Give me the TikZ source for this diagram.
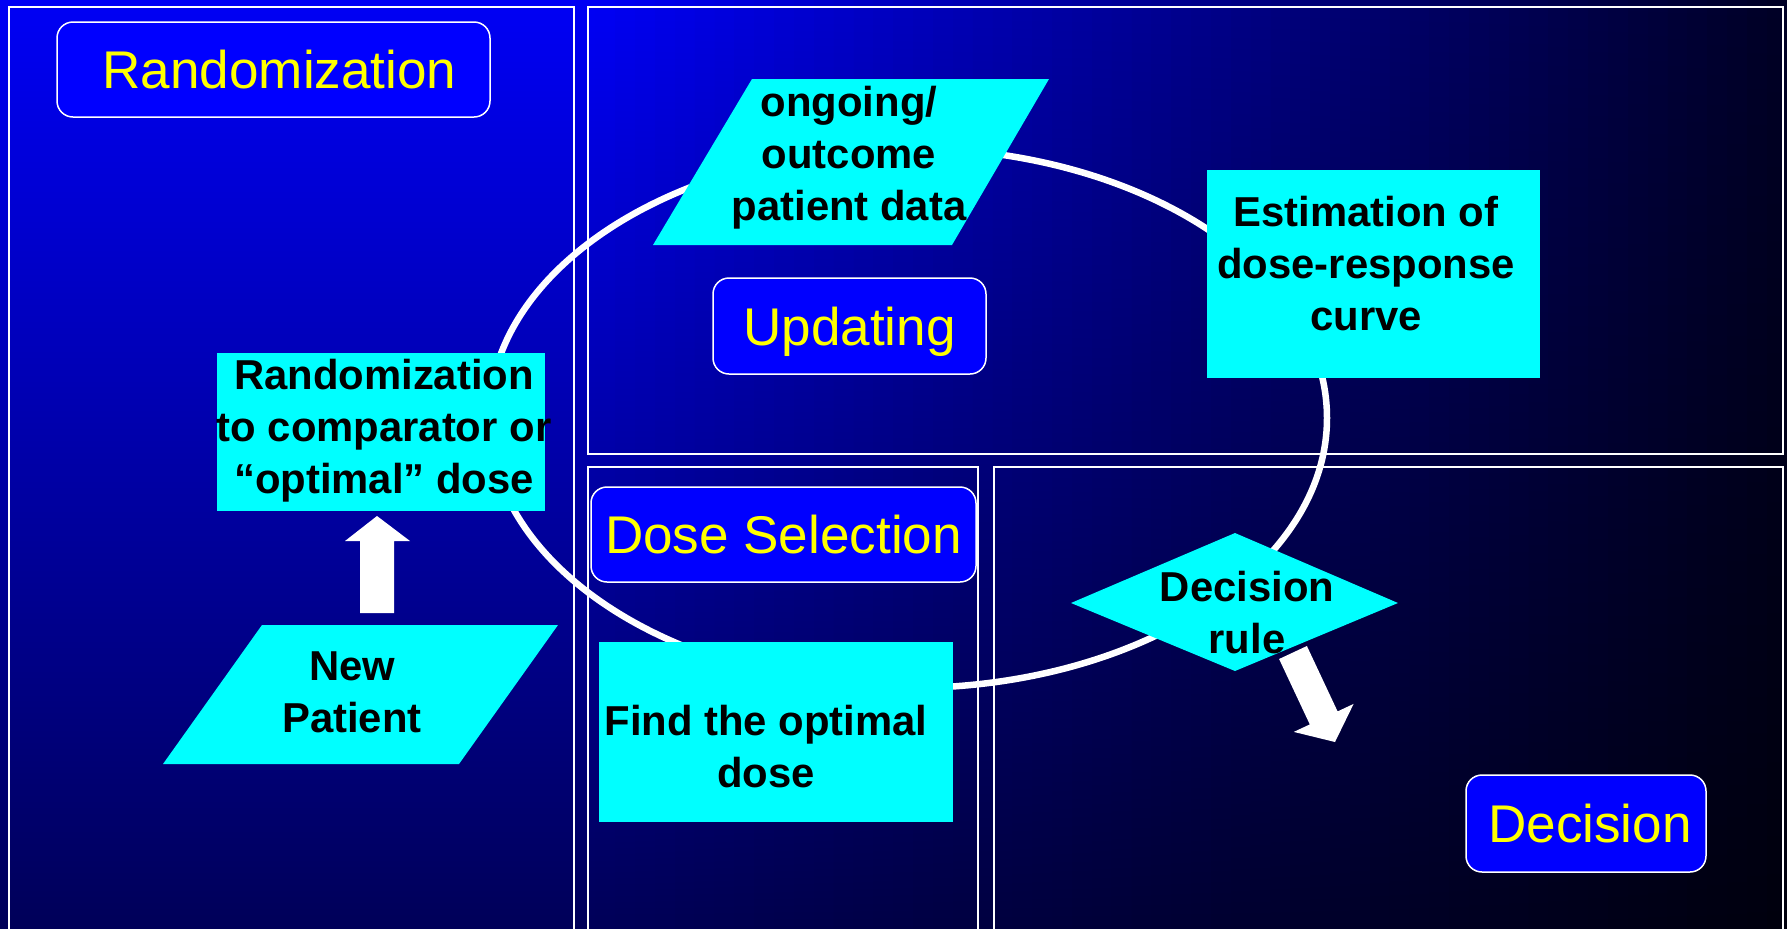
\documentclass[tikz,border=0pt]{standalone}
\usepackage{fontspec}
\setmainfont{Liberation Sans}
\definecolor{cyanC}{RGB}{0,255,255}
\definecolor{yellowC}{RGB}{255,255,0}
\definecolor{blueC}{RGB}{0,0,255}
\begin{document}
\begin{tikzpicture}[x=0.1mm,y=-0.1mm,
  panel/.style={draw=white, line width=0.22mm},
  titlebox/.style={draw=white, line width=0.15mm, fill=blueC, rounded corners=1.6mm, inner sep=0pt,
    text=yellowC, font=\fontsize{15.1}{18}\selectfont, text depth=0pt},
  cyanbox/.style={fill=cyanC, inner sep=0pt},
  boldtext/.style={font=\fontsize{11.9}{14.8}\selectfont\bfseries, text=black, align=center, inner sep=0pt},
  blockarrow/.style={fill=white},
  cycleloop/.style={draw=white, line width=0.65mm}]
\useasboundingbox (0,0) rectangle (1787,928);
\clip (0,0) rectangle (1787,928);
% background gradient
\foreach \i in {0,...,89}{
  \pgfmathsetmacro\xa{\i*19.8556}
  \pgfmathsetmacro\xb{\xa+21.4}
  \pgfmathsetmacro\xc{\xa+9.93}
  \pgfmathsetmacro\fx{ifthenelse(\xc<600,1,1-0.85*(\xc-600)/1187)}
  \pgfmathtruncatemacro\bt{245*\fx}
  \pgfmathtruncatemacro\bb{245*\fx*0.36}
  \definecolor{bgT}{RGB}{0,0,\bt}
  \definecolor{bgB}{RGB}{0,0,\bb}
  \shade[top color=bgT, bottom color=bgB] (\xa,-1) rectangle (\xb,929);
}
% panels
\draw[panel] (9,7) rectangle (574,945);
\draw[panel] (588,7) rectangle (1783,454);
\draw[panel] (588,467) rectangle (978,945);
\draw[panel] (994,467) rectangle (1783,945);
% cycle ellipse
\draw[cycleloop] (908,418) ellipse [x radius=419, y radius=270];
% cyan shapes
\node[cyanbox, minimum width=33.3mm, minimum height=20.8mm] (est) at (1373.5,274) {};
\node[cyanbox, minimum width=32.8mm, minimum height=15.8mm] (rand) at (381,432) {};
\node[cyanbox, minimum width=35.4mm, minimum height=18mm] (find) at (776,732) {};
\fill[cyanC] (752,79) -- (1049,79) -- (952,245) -- (653,245) -- cycle;
\fill[cyanC] (262,625) -- (558,625) -- (459,764) -- (163,764) -- cycle;
\fill[cyanC] (1071,603) -- (1235,533) -- (1398,603) -- (1235,671) -- cycle;
% title boxes
\node[titlebox, minimum width=43.3mm, minimum height=9.5mm] (tRand) at (273.5,69.5) {\hspace*{1.2mm}Randomization};
\node[titlebox, minimum width=27.3mm, minimum height=9.6mm] (tUpd) at (849.5,326) {Updating};
\node[titlebox, minimum width=38.5mm, minimum height=9.5mm] (tDose) at (783.5,534.5) {Dose Selection};
\node[titlebox, minimum width=24mm, minimum height=9.7mm] (tDec) at (1586,823.5) {\hspace*{0.8mm}Decision};
% texts
\node[boldtext] (estT) at (1366,264) {Estimation of\\dose-response\\curve};
\node[boldtext] (randT) at (384,431) {Randomization\\to comparator or\\“optimal” dose};
\node[boldtext] (findT) at (766,747) {Find the optimal\\dose};
\node[boldtext] (ruleT) at (1247,613) {Decision\\rule};
\node[boldtext] (dataT) at (849,158) {ongoing/\\outcome\\patient data};
\node[boldtext] (newT) at (352,692) {New\\Patient};
% block arrows
\fill[blockarrow] (377,516) -- (410,541) -- (394,541) -- (394,613) -- (360,613) -- (360,541) -- (345,541) -- cycle;
\fill[blockarrow] (1306.9,646) -- (1337.6,711.4) -- (1353.6,703.9) -- (1335,742) -- (1293.8,731.9) -- (1309.8,724.4) -- (1279.1,659) -- cycle;
\end{tikzpicture}
\end{document}
